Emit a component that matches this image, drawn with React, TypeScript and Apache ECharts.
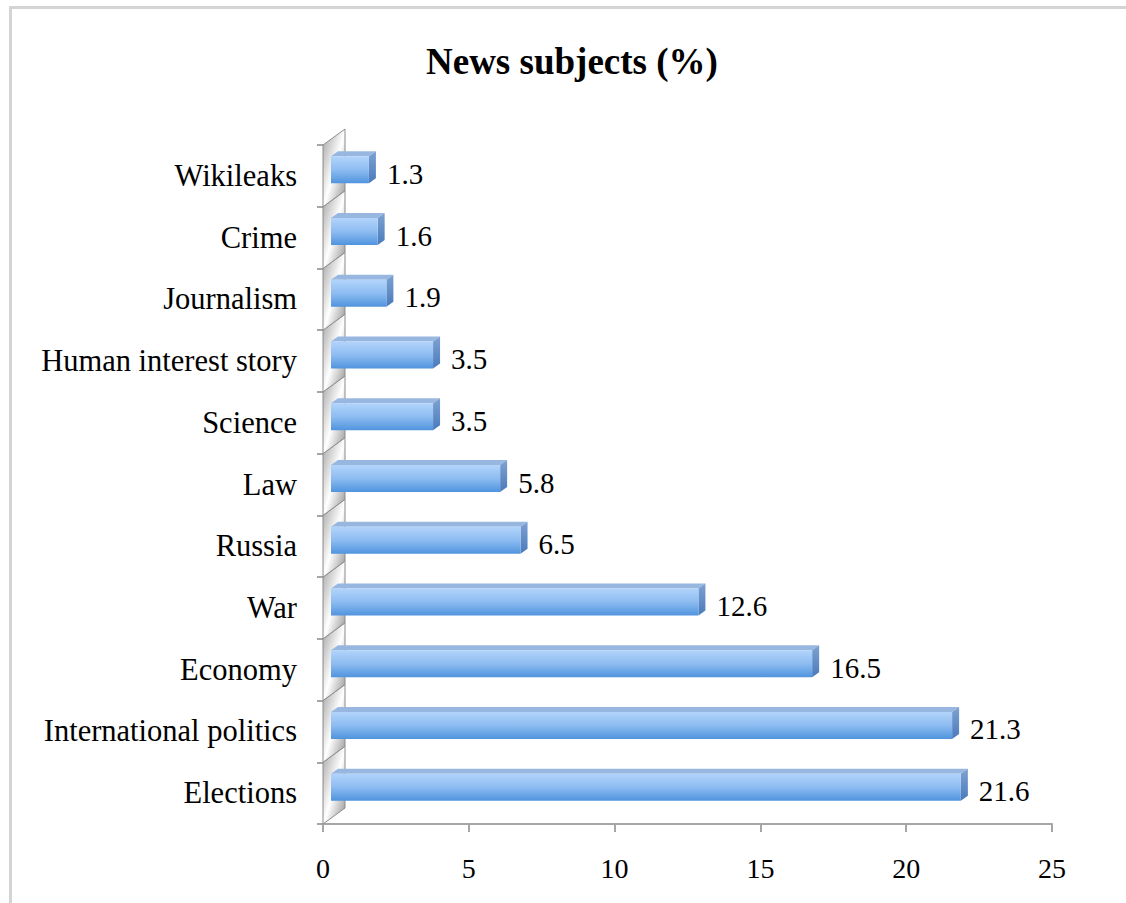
import React, { useEffect, useRef } from "react";
import * as echarts from "echarts";

const categories = [
  "Elections",
  "International politics",
  "Economy",
  "War",
  "Russia",
  "Law",
  "Science",
  "Human interest story",
  "Journalism",
  "Crime",
  "Wikileaks",
];
const values = [21.6, 21.3, 16.5, 12.6, 6.5, 5.8, 3.5, 3.5, 1.9, 1.6, 1.3];
const xTicks = [0, 5, 10, 15, 20, 25];

const FONT = "'Liberation Serif', 'Times New Roman', serif";

export default function App() {
  const ref = useRef<HTMLDivElement>(null);
  useEffect(() => {
    if (!ref.current) return;
    const chart = echarts.init(ref.current, null, { renderer: "svg" });
    const DX = 7;
    const DY = -5;
    const SHIFT = 8;
    const FACE_H = 27;
    const option: any = {
      animation: false,
      backgroundColor: "#ffffff",
      title: {
        text: "News subjects (%)",
        left: 421,
        top: 38,
        textStyle: {
          fontFamily: FONT,
          fontWeight: "bold",
          fontSize: 37,
          color: "#000",
        },
      },
      graphic: [
        {
          type: "rect",
          shape: { x: 10.5, y: 7.5, width: 1300, height: 1000 },
          style: { fill: "none", stroke: "#d4d4d4", lineWidth: 3 },
          silent: true,
          z: 0,
        },
      ],
      grid: { left: 323, right: 74, top: 145, bottom: 79, containLabel: false },
      xAxis: {
        type: "value",
        min: xTicks[0],
        max: xTicks[xTicks.length - 1],
        interval: 5,
        splitLine: { show: false },
        axisLine: { show: true, lineStyle: { color: "#a6a6a6", width: 2 } },
        axisTick: { show: true, length: 8, lineStyle: { color: "#a6a6a6", width: 2 } },
        axisLabel: {
          margin: 30,
          fontFamily: FONT,
          fontSize: 28,
          color: "#000",
        },
      },
      yAxis: {
        type: "category",
        data: categories,
        axisLine: { show: false },
        axisTick: { show: true, length: 6, lineStyle: { color: "#a6a6a6", width: 2 } },
        axisLabel: {
          margin: 26,
          fontFamily: FONT,
          fontSize: 30.5,
          color: "#000",
        },
        splitLine: { show: false },
      },
      series: [
        {
          type: "custom",
          name: "wall",
          z: 1,
          silent: true,
          data: categories.map((_, i) => [0, i]),
          renderItem: (params: any, api: any) => {
            const i = api.value(1);
            const p = api.coord([0, i]);
            const band = api.size([0, 1])[1];
            const x0 = p[0];
            const yT = p[1] - band / 2;
            const yB = p[1] + band / 2;
            const w = 22;
            const d = -16;
            return {
              type: "polygon",
              shape: {
                points: [
                  [x0, yB],
                  [x0, yT],
                  [x0 + w, yT + d],
                  [x0 + w, yB + d],
                ],
              },
              style: {
                fill: new echarts.graphic.LinearGradient(0, 0, 1, 1, [
                  { offset: 0, color: "#a2a2a2" },
                  { offset: 0.42, color: "#eeeeee" },
                  { offset: 0.52, color: "#ffffff" },
                  { offset: 1, color: "#8f8f8f" },
                ]),
                stroke: "#8c8c8c",
                lineWidth: 1,
              },
            };
          },
        },
        {
          type: "custom",
          name: "News subjects",
          z: 3,
          data: values.map((v, i) => [v, i]),
          renderItem: (params: any, api: any) => {
            const v = api.value(0);
            const i = api.value(1);
            const p0 = api.coord([0, i]);
            const p1 = api.coord([v, i]);
            const L = p0[0] + SHIFT;
            const R = p1[0] + SHIFT;
            const cy = p0[1] - 6;
            const T = cy - FACE_H / 2;
            const B = cy + FACE_H / 2;
            return {
              type: "group",
              children: [
                {
                  type: "polygon",
                  shape: {
                    points: [
                      [L, T],
                      [L + DX, T + DY],
                      [R + DX, T + DY],
                      [R, T],
                    ],
                  },
                  style: { fill: "#98b7e0" },
                },
                {
                  type: "polygon",
                  shape: {
                    points: [
                      [R, T],
                      [R + DX, T + DY],
                      [R + DX, B + DY],
                      [R, B],
                    ],
                  },
                  style: {
                    fill: new echarts.graphic.LinearGradient(0, 0, 0, 1, [
                      { offset: 0, color: "#7ea2d2" },
                      { offset: 1, color: "#4a7abb" },
                    ]),
                  },
                },
                {
                  type: "rect",
                  shape: { x: L, y: T, width: R - L, height: FACE_H },
                  style: {
                    fill: new echarts.graphic.LinearGradient(0, 0, 0, 1, [
                      { offset: 0, color: "#b2d4fb" },
                      { offset: 0.5, color: "#8dbcf1" },
                      { offset: 1, color: "#5094de" },
                    ]),
                  },
                },
                {
                  type: "text",
                  style: {
                    text: String(v),
                    x: R + DX + 11,
                    y: p0[1] - 2,
                    textAlign: "left",
                    textVerticalAlign: "middle",
                    fontFamily: FONT,
                    fontSize: 29,
                    fill: "#000",
                  },
                },
              ],
            };
          },
        },
      ],
    };
    chart.setOption(option);
    return () => chart.dispose();
  }, []);
  return (
    <div
      ref={ref}
      style={{ position: "fixed", left: 0, top: 0, width: 1126, height: 903 }}
    />
  );
}
